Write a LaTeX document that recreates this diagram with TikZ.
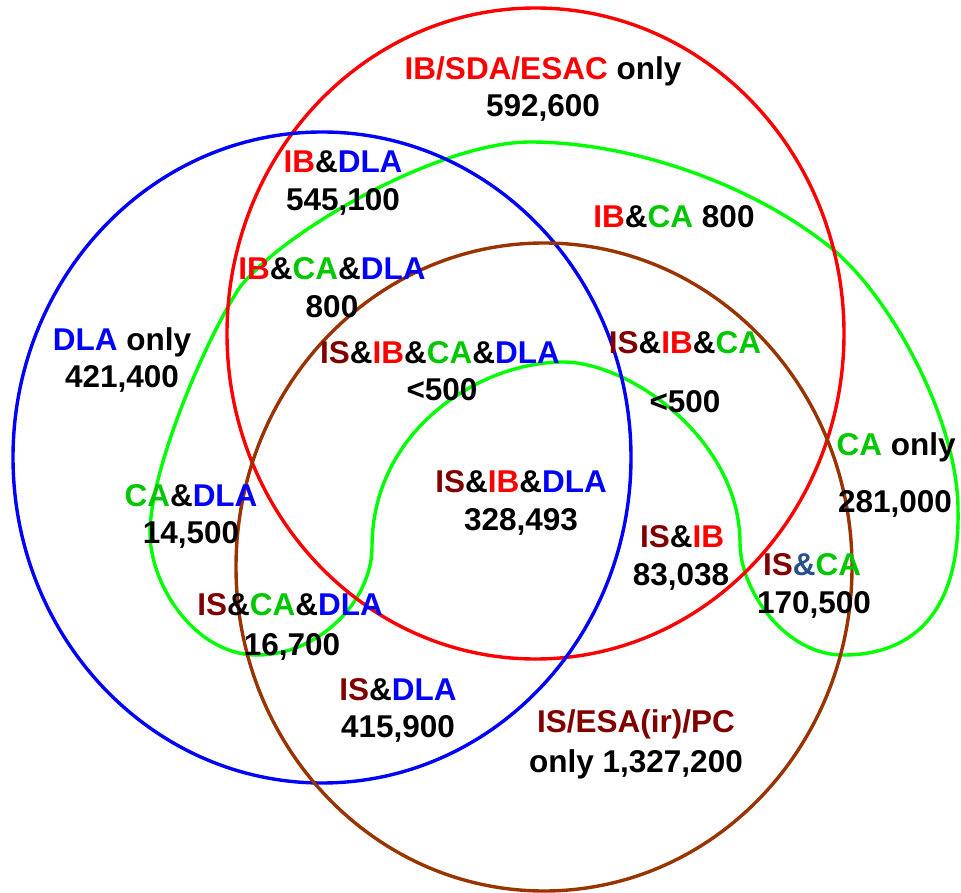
\documentclass[tikz,border=0pt]{standalone}
\usepackage{fontspec}
\setmainfont{Liberation Sans}
\definecolor{cred}{RGB}{255,0,0}
\definecolor{cblue}{RGB}{0,0,255}
\definecolor{cbrown}{RGB}{153,51,0}
\definecolor{clime}{RGB}{0,255,0}
\definecolor{tgreen}{RGB}{0,200,0}
\definecolor{tis}{RGB}{128,0,0}
\definecolor{tamp}{RGB}{40,80,140}
\newcommand{\IB}{\textcolor{cred}{IB}}
\newcommand{\DLA}{\textcolor{cblue}{DLA}}
\newcommand{\CA}{\textcolor{tgreen}{CA}}
\newcommand{\IS}{\textcolor{tis}{IS}}
\begin{document}
\begin{tikzpicture}[x=1pt,y=-1pt,
  lbl/.style={anchor=base,inner sep=0pt,font=\fontsize{31.5}{38}\selectfont\bfseries},
  ring/.style={line width=3.4pt}]
\useasboundingbox (0,0) rectangle (961,893);
% green curve
\draw[clime,line width=3.4pt,line join=round] (150,533)
  .. controls (150,470) and (205,340) .. (240,287)
  .. controls (285,230) and (440,142) .. (530,142)
  .. controls (630,142) and (750,183) .. (830,247)
  .. controls (890,295) and (958,420) .. (958,510)
  .. controls (960,610) and (915,655) .. (843,655)
  .. controls (785,655) and (740,590) .. (740,543)
  .. controls (740,440) and (630,362) .. (563,362)
  .. controls (480,362) and (372,430) .. (372,547)
  .. controls (372,600) and (320,655) .. (257,655)
  .. controls (195,655) and (150,585) .. cycle;
% ellipses
\draw[ring,cred] (535.5,333.5) ellipse [x radius=308.5, y radius=325.5];
\draw[ring,cblue] (322,457.5) ellipse [x radius=309, y radius=325.5];
\draw[ring,cbrown] (544,567) ellipse [x radius=308, y radius=324];
% labels
\node[lbl] (t1a) at (543,80) {\textcolor{cred}{IB/SDA/ESAC} only};
\node[lbl] (t1b) at (543,117) {592,600};
\node[lbl] (t2a) at (343,173) {\IB\&\DLA};
\node[lbl] (t2b) at (343,211) {545,100};
\node[lbl] (t3a) at (332,280) {\IB\&\CA\&\DLA};
\node[lbl] (t3b) at (332,318) {800};
\node[lbl] (t4a) at (122,350) {\DLA{} only};
\node[lbl] (t4b) at (122,387) {421,400};
\node[lbl] (t5a) at (440,363) {\IS\&\IB\&\CA\&\DLA};
\node[lbl] (t5b) at (442,400) {<500};
\node[lbl] (t6a) at (685,353) {\IS\&\IB\&\CA};
\node[lbl] (t6b) at (685,412) {<500};
\node[lbl] (t7) at (674,228) {\IB\&\CA{} 800};
\node[lbl] (t8a) at (521,492) {\IS\&\IB\&\DLA};
\node[lbl] (t8b) at (521,530) {328,493};
\node[lbl] (t9a) at (191,506) {\CA\&\DLA};
\node[lbl] (t9b) at (191,543) {14,500};
\node[lbl] (t10a) at (290,615) {\IS\&\CA\&\DLA};
\node[lbl] (t10b) at (292,655) {16,700};
\node[lbl] (t11a) at (398,700) {\IS\&\DLA};
\node[lbl] (t11b) at (398,737) {415,900};
\node[lbl] (t12a) at (636,732) {\textcolor{tis}{IS/ESA(ir)/PC}};
\node[lbl] (t12b) at (636,772) {only 1,327,200};
\node[lbl] (t13a) at (896,455) {\CA{} only};
\node[lbl] (t13b) at (895,512) {281,000};
\node[lbl] (t14a) at (682,547) {\IS\&\IB};
\node[lbl] (t14b) at (681,585) {83,038};
\node[lbl] (t15a) at (812,575) {\IS\textcolor{tamp}{\&}\CA};
\node[lbl] (t15b) at (814,613) {170,500};
\end{tikzpicture}
\end{document}
